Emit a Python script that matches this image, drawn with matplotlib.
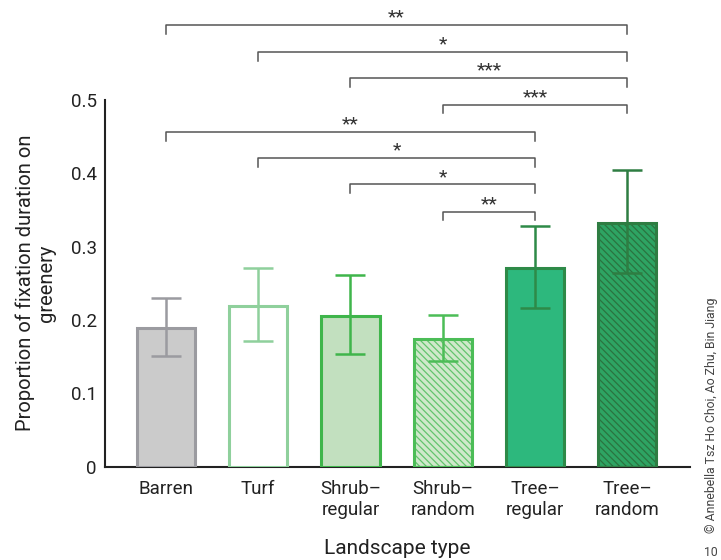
import numpy as np
import matplotlib.pyplot as plt

plt.rcParams['font.family'] = ['Roboto', 'DejaVu Sans']
plt.rcParams['hatch.linewidth'] = 0.9

labels = ['Barren', 'Turf', 'Shrub–\nregular', 'Shrub–\nrandom', 'Tree–\nregular', 'Tree–\nrandom']
means = np.array([0.189, 0.219, 0.205, 0.174, 0.271, 0.333])
err_hi = np.array([0.230, 0.271, 0.261, 0.207, 0.328, 0.405])
err_lo = np.array([0.151, 0.171, 0.153, 0.144, 0.216, 0.264])

face = ['#cbcbcb', '#ffffff', '#c2e0bf', '#cfe9cb', '#2db87d', '#2ea463']
edge = ['#9b9ba0', '#8fd09c', '#3fb54b', '#4cbd57', '#2e8a48', '#2e7d42']
hatch = [None, None, None, '\\\\\\\\\\', None, '\\\\\\\\\\']
hatch_col = [None, None, None, '#63c46d', None, '#2a7440']

# significance brackets: (from, to, label)
comps = [(0, 5, '**'), (1, 5, '*'), (2, 5, '***'), (3, 5, '***'),
         (0, 4, '**'), (1, 4, '*'), (2, 4, '*'), (3, 4, '**')]
comp_y = [0.603, 0.566, 0.530, 0.494, 0.457, 0.421, 0.385, 0.348]

fig = plt.figure(figsize=(7.21, 5.6), dpi=100)
ax = fig.add_axes([105/721, 1 - 466.5/560, 585/721, (466.5 - 12.3)/560])

x = np.arange(len(labels))
w = 0.63
for i in range(len(x)):
    if hatch[i]:
        ax.bar(x[i], means[i], w, color=face[i], edgecolor=hatch_col[i], hatch=hatch[i], linewidth=0, zorder=2)
        ax.bar(x[i], means[i], w, fill=False, edgecolor=edge[i], linewidth=2.2, zorder=3)
    else:
        ax.bar(x[i], means[i], w, color=face[i], edgecolor=edge[i], linewidth=2.2, zorder=3)
    ax.errorbar(x[i], means[i], yerr=[[means[i] - err_lo[i]], [err_hi[i] - means[i]]],
                fmt='none', ecolor=edge[i], elinewidth=1.8, capsize=11, capthick=1.8, zorder=4)

for (a, b, s), y in zip(comps, comp_y):
    ax.plot([a, a, b, b], [y - 0.012, y, y, y - 0.012], color='#555555', lw=1.1, clip_on=False)
    ax.text((a + b) / 2, y - 0.002, s, ha='center', va='bottom', fontsize=14, color='#333333')

ax.set_xlim(-0.66, 5.68)
ax.set_ylim(0, 0.62)
ax.set_yticks([0, 0.1, 0.2, 0.3, 0.4, 0.5])
ax.set_yticklabels(['0', '0.1', '0.2', '0.3', '0.4', '0.5'])
ax.set_xticks(x)
ax.set_xticklabels(labels, linespacing=1.2)
ax.tick_params(length=0, labelsize=13.5, colors='#222222')
ax.tick_params(axis='y', pad=6)
ax.tick_params(axis='x', pad=10)
for sp in ['top', 'right']:
    ax.spines[sp].set_visible(False)
ax.spines['left'].set_bounds(0, 0.5)
ax.spines['left'].set_color('#222222')
ax.spines['bottom'].set_color('#222222')
ax.spines['left'].set_linewidth(1.5)
ax.spines['bottom'].set_linewidth(1.5)

fig.text(36/721, 1 - 283/560, 'Proportion of fixation duration on\ngreenery', rotation=90,
         ha='center', va='center', fontsize=14.5, color='#222222', linespacing=1.15)
fig.text(397/721, 1 - 548/560, 'Landscape type', ha='center', va='center', fontsize=15, color='#222222')
fig.text(711/721, 1 - 415/560, '© Annebella Tsz Ho Choi, Ao Zhu, Bin Jiang', rotation=90,
         ha='center', va='center', fontsize=8.8, color='#444444')
fig.text(711/721, 1 - 552/560, '10', ha='center', va='center', fontsize=8.8, color='#444444')

fig.savefig('out.png', dpi=100)
